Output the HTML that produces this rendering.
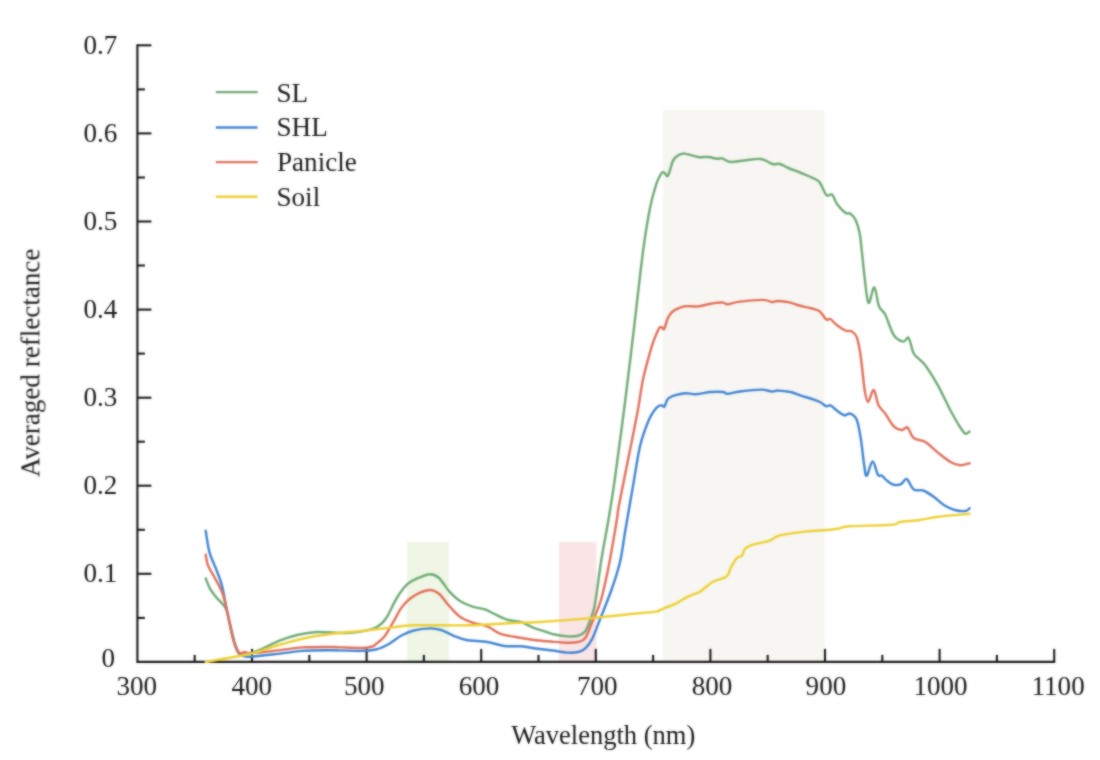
<!DOCTYPE html>
<html><head><meta charset="utf-8"><title>Averaged reflectance</title>
<style>
html,body{margin:0;padding:0;background:#fff;}
body{width:1100px;height:760px;overflow:hidden;position:relative;font-family:"Liberation Serif",serif;}
svg{position:absolute;left:0;top:0;display:block}
svg text{font-family:"Liberation Serif",serif;fill:#1a1a1a;font-size:27.1px}
</style></head><body>
<svg width="1100" height="760" viewBox="0 0 1100 760">
<rect width="1100" height="760" fill="#fff"/>
<defs><filter id="soft" filterUnits="userSpaceOnUse" x="0" y="0" width="1100" height="760" color-interpolation-filters="sRGB"><feGaussianBlur in="SourceGraphic" stdDeviation="0.8" result="b"/><feComposite in="SourceGraphic" in2="b" operator="arithmetic" k1="0" k2="0.4" k3="0.6" k4="0"/></filter></defs>
<g filter="url(#soft)">
<rect x="407" y="542" width="42" height="120" fill="#eff6e5"/>
<rect x="559" y="542" width="37.5" height="120" fill="#fae5e6"/>
<rect x="662.7" y="110" width="161.8" height="552" fill="#f7f6f2"/>
<g stroke="#1a1a1a" stroke-width="2.1" fill="none">
<path d="M137.4 44.3 V661.9 H1055.2" stroke-linejoin="miter"/>
<line x1="194.7" y1="661.9" x2="194.7" y2="654.9"/><line x1="252.0" y1="661.9" x2="252.0" y2="648.9"/><line x1="309.3" y1="661.9" x2="309.3" y2="654.9"/><line x1="366.6" y1="661.9" x2="366.6" y2="648.9"/><line x1="423.9" y1="661.9" x2="423.9" y2="654.9"/><line x1="481.2" y1="661.9" x2="481.2" y2="648.9"/><line x1="538.5" y1="661.9" x2="538.5" y2="654.9"/><line x1="595.8" y1="661.9" x2="595.8" y2="648.9"/><line x1="653.1" y1="661.9" x2="653.1" y2="654.9"/><line x1="710.4" y1="661.9" x2="710.4" y2="648.9"/><line x1="767.7" y1="661.9" x2="767.7" y2="654.9"/><line x1="825.0" y1="661.9" x2="825.0" y2="648.9"/><line x1="882.3" y1="661.9" x2="882.3" y2="654.9"/><line x1="939.6" y1="661.9" x2="939.6" y2="648.9"/><line x1="996.9" y1="661.9" x2="996.9" y2="654.9"/><line x1="1054.2" y1="661.9" x2="1054.2" y2="648.9"/><line x1="137.4" y1="617.9" x2="144.9" y2="617.9"/><line x1="137.4" y1="573.8" x2="151.4" y2="573.8"/><line x1="137.4" y1="529.8" x2="144.9" y2="529.8"/><line x1="137.4" y1="485.7" x2="151.4" y2="485.7"/><line x1="137.4" y1="441.7" x2="144.9" y2="441.7"/><line x1="137.4" y1="397.7" x2="151.4" y2="397.7"/><line x1="137.4" y1="353.6" x2="144.9" y2="353.6"/><line x1="137.4" y1="309.6" x2="151.4" y2="309.6"/><line x1="137.4" y1="265.5" x2="144.9" y2="265.5"/><line x1="137.4" y1="221.5" x2="151.4" y2="221.5"/><line x1="137.4" y1="177.5" x2="144.9" y2="177.5"/><line x1="137.4" y1="133.4" x2="151.4" y2="133.4"/><line x1="137.4" y1="89.4" x2="144.9" y2="89.4"/><line x1="137.4" y1="45.3" x2="151.4" y2="45.3"/>
</g>
<g fill="none" stroke-width="2.45" stroke-linejoin="round" stroke-linecap="round">
<path stroke="#70ab76" d="M205.7 578.5 C206.4 580.2 208.3 585.5 210.0 588.6 C211.7 591.7 214.1 594.6 216.0 597.0 C217.9 599.4 220.2 601.4 221.6 603.0 C223.0 604.6 223.6 604.8 224.6 606.5 C225.6 608.2 226.7 610.2 227.6 613.2 C228.5 616.2 228.9 619.5 230.2 624.8 C231.5 630.1 233.8 640.3 235.4 645.0 C237.0 649.7 238.1 651.6 239.5 653.2 C240.9 654.8 242.2 654.5 244.0 654.5 C245.8 654.5 247.6 654.2 250.6 653.2 C253.6 652.2 257.4 650.9 262.2 648.8 C267.0 646.7 273.8 643.0 279.6 640.7 C285.4 638.4 290.7 636.5 297.0 635.0 C303.3 633.5 309.0 632.3 317.2 632.0 C325.4 631.7 338.0 633.2 346.2 633.0 C354.4 632.8 361.0 631.6 366.3 630.5 C371.6 629.4 374.7 628.4 378.0 626.3 C381.3 624.2 383.2 622.7 386.3 618.0 C389.4 613.3 393.3 603.6 396.8 598.0 C400.3 592.4 403.5 587.7 407.4 584.2 C411.3 580.8 416.1 578.9 420.0 577.3 C423.9 575.6 427.3 574.2 430.5 574.3 C433.7 574.4 435.8 575.1 439.0 578.0 C442.2 580.9 446.0 587.8 449.5 591.6 C453.0 595.4 456.1 598.5 460.0 601.0 C463.9 603.5 468.4 605.3 472.6 606.7 C476.8 608.1 481.4 608.2 485.3 609.5 C489.2 610.8 492.0 613.0 495.8 614.7 C499.6 616.5 504.2 618.8 508.4 620.0 C512.6 621.2 516.8 620.7 521.0 622.0 C525.2 623.3 529.7 626.2 533.7 627.8 C537.7 629.4 541.5 630.4 545.0 631.5 C548.5 632.6 551.0 633.7 554.7 634.5 C558.4 635.3 563.5 636.2 567.4 636.4 C571.3 636.6 575.1 636.6 578.0 635.8 C580.9 635.0 582.9 634.4 585.0 631.6 C587.1 628.8 588.8 623.6 590.5 619.0 C592.2 614.4 593.2 613.5 595.0 604.0 C596.8 594.5 598.8 576.0 601.0 562.0 C603.2 548.0 606.1 533.7 608.4 520.0 C610.7 506.3 611.9 500.0 614.7 480.0 C617.5 460.0 622.1 425.3 625.3 400.0 C628.5 374.7 631.0 353.0 634.0 328.0 C637.0 303.0 640.5 270.0 643.2 250.0 C645.9 230.0 647.9 218.8 650.0 208.0 C652.1 197.2 654.2 190.7 656.0 185.0 C657.8 179.3 659.7 175.9 661.0 173.8 C662.3 171.7 662.9 172.1 664.0 172.5 C665.1 172.9 666.4 176.7 667.4 176.3 C668.4 175.9 669.1 172.4 670.0 170.0 C670.9 167.6 671.5 163.9 672.6 161.6 C673.7 159.3 674.9 157.6 676.8 156.3 C678.7 155.0 680.7 153.5 684.2 153.6 C687.7 153.7 694.0 156.4 698.0 157.0 C702.0 157.6 705.3 156.7 708.4 157.0 C711.5 157.3 714.5 158.6 716.8 158.8 C719.1 159.0 719.7 157.9 722.0 158.4 C724.3 158.9 726.8 161.7 730.5 162.0 C734.2 162.3 738.9 161.0 744.0 160.5 C749.1 160.0 756.2 158.4 761.0 159.0 C765.8 159.6 769.4 163.2 772.6 164.0 C775.8 164.8 777.4 163.3 780.0 164.0 C782.6 164.7 784.9 166.5 788.4 168.0 C791.9 169.5 796.3 171.0 801.0 173.0 C805.7 175.0 813.5 178.1 816.8 180.0 C820.1 181.9 819.4 182.1 821.0 184.7 C822.6 187.2 824.8 193.7 826.7 195.3 C828.6 197.0 830.5 193.2 832.2 194.6 C833.9 196.0 834.6 200.7 836.8 203.7 C839.0 206.7 843.0 211.0 845.3 212.7 C847.6 214.4 848.8 212.5 850.5 213.8 C852.2 215.1 854.3 217.3 855.8 220.5 C857.3 223.7 858.6 228.1 859.6 233.0 C860.6 237.9 860.9 243.2 861.7 250.0 C862.5 256.8 863.1 264.9 864.2 273.7 C865.3 282.5 866.7 300.4 868.4 302.7 C870.1 305.0 872.5 286.8 874.3 287.4 C876.1 288.0 877.2 301.8 879.0 306.3 C880.8 310.9 882.8 309.9 885.3 314.7 C887.8 319.5 890.7 330.5 893.7 335.0 C896.7 339.5 900.7 341.1 903.2 341.6 C905.7 342.1 906.9 336.1 908.6 338.0 C910.3 339.9 911.8 349.5 913.5 353.0 C915.2 356.5 917.0 356.9 919.0 359.0 C921.0 361.1 922.1 360.9 925.3 365.3 C928.4 369.7 933.7 377.8 937.9 385.3 C942.1 392.8 946.8 403.6 950.5 410.5 C954.2 417.4 957.5 423.1 960.0 427.0 C962.5 430.9 963.7 432.9 965.3 433.7 C966.9 434.5 968.8 432.0 969.5 431.6"/>
<path stroke="#4285d4" d="M205.7 530.7 C206.3 534.3 207.8 546.1 209.5 552.4 C211.2 558.7 213.8 563.0 215.8 568.3 C217.8 573.6 220.0 578.8 221.6 584.3 C223.2 589.8 224.0 596.0 225.2 601.6 C226.3 607.2 227.1 611.4 228.5 618.0 C229.9 624.6 232.0 635.2 233.6 641.0 C235.2 646.8 236.6 650.0 238.2 652.5 C239.8 655.0 240.9 655.3 243.0 656.0 C245.1 656.7 245.5 657.0 250.6 656.7 C255.7 656.4 265.1 655.3 273.8 654.3 C282.5 653.3 293.1 651.6 302.7 650.9 C312.3 650.2 322.0 650.3 331.7 650.3 C341.4 650.3 353.2 651.0 360.6 650.9 C368.0 650.8 371.2 650.6 375.8 649.5 C380.4 648.4 384.2 646.5 388.4 644.2 C392.6 641.9 396.8 638.1 401.0 635.8 C405.2 633.5 408.8 631.7 413.7 630.5 C418.6 629.3 425.9 628.5 430.5 628.4 C435.1 628.3 437.1 628.8 441.0 630.0 C444.9 631.2 449.5 634.1 453.7 635.8 C457.9 637.5 460.7 639.0 466.3 640.0 C471.9 641.0 481.1 641.0 487.4 642.0 C493.7 643.0 498.6 645.3 504.2 646.0 C509.8 646.7 515.4 645.8 521.0 646.3 C526.6 646.8 532.7 648.1 538.0 648.8 C543.3 649.5 547.7 649.9 552.6 650.5 C557.5 651.1 563.2 652.4 567.4 652.6 C571.6 652.9 575.0 652.7 578.0 652.0 C581.0 651.3 582.9 650.7 585.3 648.4 C587.7 646.1 590.0 643.3 592.6 638.0 C595.2 632.7 597.8 624.9 601.0 616.8 C604.2 608.7 608.4 598.6 611.6 589.5 C614.8 580.4 617.7 571.8 620.0 562.0 C622.3 552.2 623.2 542.8 625.3 530.5 C627.4 518.2 630.1 502.4 632.6 488.4 C635.1 474.4 637.4 457.5 640.0 446.3 C642.6 435.1 645.9 427.1 648.4 421.0 C650.9 414.9 652.9 412.5 654.7 410.0 C656.5 407.5 657.8 406.6 659.0 405.8 C660.2 405.1 661.1 405.3 662.0 405.5 C662.9 405.7 663.5 407.4 664.2 406.8 C664.9 406.2 665.6 403.4 666.3 402.0 C667.0 400.6 667.0 399.5 668.4 398.4 C669.8 397.3 671.9 396.2 674.7 395.3 C677.5 394.4 681.8 393.4 685.3 393.2 C688.8 393.0 691.6 394.4 695.8 394.2 C700.0 394.0 705.9 392.4 710.5 392.0 C715.1 391.6 720.4 391.7 723.2 392.0 C726.0 392.3 724.6 393.9 727.4 393.8 C730.2 393.7 734.4 392.2 740.0 391.5 C745.6 390.8 755.7 389.6 761.0 389.6 C766.3 389.6 768.8 391.3 771.6 391.5 C774.4 391.7 774.8 390.5 777.9 390.6 C781.0 390.7 786.8 391.2 790.5 392.0 C794.2 392.8 796.4 394.1 800.0 395.3 C803.6 396.5 808.7 397.9 812.0 399.0 C815.3 400.1 817.6 400.8 820.0 402.0 C822.4 403.2 824.5 405.8 826.3 406.3 C828.0 406.9 828.8 404.6 830.5 405.3 C832.2 406.0 834.5 408.9 836.8 410.5 C839.1 412.1 841.9 414.7 844.2 415.2 C846.5 415.7 848.4 412.9 850.5 413.7 C852.6 414.5 855.0 415.6 856.8 420.0 C858.5 424.4 859.8 432.4 861.0 440.0 C862.2 447.6 863.2 459.3 864.2 465.3 C865.2 471.3 865.3 476.4 866.7 475.8 C868.1 475.2 870.7 461.7 872.6 461.5 C874.5 461.3 876.3 472.3 877.9 474.7 C879.5 477.1 880.4 474.8 882.0 475.8 C883.6 476.9 885.4 479.5 887.4 481.0 C889.4 482.5 891.4 484.3 893.7 484.8 C896.0 485.3 898.8 485.2 901.0 484.2 C903.2 483.2 904.6 478.1 906.7 479.0 C908.8 479.9 911.0 487.6 913.7 489.5 C916.5 491.4 919.9 489.3 923.2 490.5 C926.5 491.7 930.2 494.3 933.7 496.8 C937.2 499.3 940.7 503.1 944.2 505.3 C947.7 507.5 951.2 509.1 954.7 510.0 C958.2 510.9 962.8 511.3 965.3 511.0 C967.8 510.7 968.8 508.8 969.5 508.4"/>
<path stroke="#e2705a" d="M205.7 554.7 C206.1 556.5 206.6 561.7 208.0 565.4 C209.4 569.1 211.9 572.4 214.3 577.0 C216.7 581.6 220.2 587.0 222.4 593.0 C224.6 599.0 225.6 605.5 227.4 613.2 C229.2 620.9 231.5 633.0 233.2 639.3 C234.9 645.6 236.4 648.6 237.6 650.9 C238.8 653.2 239.3 653.0 240.5 653.2 C241.7 653.4 243.3 652.0 245.0 652.0 C246.7 652.0 245.8 653.4 250.6 653.2 C255.4 653.0 265.1 651.9 273.8 650.9 C282.5 649.9 293.1 648.0 302.7 647.4 C312.3 646.8 322.0 646.9 331.7 647.0 C341.4 647.1 353.9 648.1 360.6 648.0 C367.4 647.9 369.7 647.1 372.2 646.5 C374.7 645.9 373.8 645.8 375.8 644.2 C377.8 642.6 381.4 640.3 384.2 636.8 C387.0 633.3 389.8 627.9 392.6 623.2 C395.4 618.5 398.2 612.4 401.0 608.4 C403.8 604.4 406.3 601.6 409.5 599.0 C412.7 596.4 416.5 594.1 420.0 592.6 C423.5 591.1 427.3 589.8 430.5 590.0 C433.7 590.2 435.8 591.0 439.0 593.7 C442.2 596.4 446.0 602.4 449.5 606.3 C453.0 610.1 456.1 614.1 460.0 616.8 C463.9 619.5 468.0 621.1 472.6 622.7 C477.2 624.3 482.8 624.5 487.4 626.3 C492.0 628.1 495.4 632.0 500.0 633.7 C504.6 635.5 509.1 635.8 514.7 636.8 C520.3 637.8 527.4 639.2 533.7 640.0 C540.0 640.8 547.0 641.2 552.6 641.7 C558.2 642.2 563.2 642.7 567.4 642.7 C571.6 642.8 575.0 642.8 578.0 642.0 C581.0 641.2 582.9 641.5 585.3 638.0 C587.7 634.5 590.0 627.3 592.6 621.0 C595.2 614.7 598.2 609.8 601.0 600.0 C603.8 590.2 606.9 575.3 609.5 562.0 C612.1 548.7 615.2 529.5 616.8 520.0 C618.4 510.5 616.9 516.2 619.0 505.0 C621.1 493.8 626.4 468.4 629.5 452.6 C632.6 436.8 635.6 422.4 637.9 410.0 C640.2 397.6 640.9 388.9 643.2 378.4 C645.5 367.9 649.5 354.0 651.6 346.8 C653.7 339.6 654.7 338.2 656.0 335.0 C657.3 331.8 658.6 328.8 659.6 327.5 C660.6 326.2 661.2 327.2 662.0 327.5 C662.8 327.8 663.5 329.9 664.2 329.0 C665.0 328.1 665.8 324.0 666.5 322.0 C667.2 320.0 667.4 318.8 668.4 317.0 C669.4 315.2 671.0 312.9 672.6 311.5 C674.2 310.1 675.9 309.4 678.0 308.5 C680.1 307.6 682.0 306.6 685.3 306.2 C688.6 305.8 693.8 306.8 698.0 306.4 C702.2 306.0 706.3 304.3 710.5 303.7 C714.7 303.1 720.4 302.5 723.2 302.6 C726.0 302.7 724.6 304.5 727.4 304.3 C730.2 304.1 734.0 302.3 740.0 301.6 C746.0 300.9 757.9 299.8 763.2 299.9 C768.5 300.0 769.2 301.8 771.6 302.0 C774.0 302.2 774.8 300.9 777.9 301.0 C781.0 301.1 786.8 301.8 790.5 302.6 C794.2 303.4 796.4 304.8 800.0 305.8 C803.6 306.8 808.7 307.5 812.0 308.5 C815.3 309.5 817.6 309.8 820.0 311.6 C822.4 313.5 824.5 318.4 826.3 319.6 C828.0 320.8 828.9 318.2 830.5 319.0 C832.1 319.8 833.3 322.3 835.8 324.2 C838.3 326.1 842.7 329.3 845.3 330.5 C847.9 331.7 849.7 330.2 851.6 331.3 C853.5 332.4 855.4 334.0 856.8 337.4 C858.2 340.8 859.2 347.0 860.0 351.6 C860.8 356.2 861.0 358.7 861.8 365.0 C862.6 371.3 863.6 383.3 864.6 389.5 C865.6 395.7 866.5 401.9 868.0 402.0 C869.5 402.1 872.0 389.4 873.7 390.0 C875.5 390.6 876.6 401.4 878.5 405.3 C880.4 409.2 882.8 410.2 885.3 413.7 C887.8 417.2 890.9 423.6 893.7 426.3 C896.5 429.0 899.7 429.8 902.0 430.0 C904.3 430.2 905.4 426.1 907.4 427.4 C909.4 428.7 910.7 435.6 913.7 438.0 C916.7 440.4 921.3 439.6 925.3 442.0 C929.3 444.4 933.7 449.3 937.9 452.6 C942.1 455.9 946.8 459.9 950.5 462.0 C954.2 464.1 956.8 465.1 960.0 465.3 C963.2 465.5 967.9 463.6 969.5 463.2"/>
<path stroke="#eed034" d="M205.7 661.9 C213.2 660.5 239.2 656.4 250.6 653.8 C261.9 651.2 265.1 649.0 273.8 646.5 C282.5 644.0 293.1 640.8 302.7 638.7 C312.3 636.6 321.1 635.2 331.7 633.8 C342.3 632.4 356.1 631.6 366.3 630.5 C376.5 629.4 384.7 628.3 392.6 627.4 C400.5 626.5 401.4 625.6 413.7 625.3 C426.0 624.9 450.5 625.6 466.3 625.3 C482.1 624.9 496.1 623.8 508.4 623.2 C520.7 622.7 526.0 622.9 540.0 622.0 C554.0 621.1 578.6 619.2 592.6 618.0 C606.6 616.8 613.5 615.8 624.0 614.7 C634.5 613.6 649.8 612.4 655.8 611.6 C661.8 610.8 658.2 610.7 660.0 610.0 C661.8 609.3 663.8 608.4 666.3 607.4 C668.8 606.4 671.2 606.0 674.7 604.2 C678.2 602.4 683.2 598.9 687.4 596.8 C691.6 594.7 695.8 594.1 700.0 591.6 C704.2 589.1 708.2 584.5 712.6 582.0 C717.0 579.5 723.3 579.1 726.3 576.8 C729.3 574.5 728.8 571.5 730.5 568.4 C732.2 565.3 734.9 560.1 736.8 558.0 C738.7 555.9 740.6 557.4 742.0 555.8 C743.4 554.2 743.2 550.3 745.3 548.4 C747.4 546.5 750.7 545.5 754.7 544.2 C758.7 542.9 765.3 542.1 769.5 540.6 C773.7 539.1 774.0 536.9 780.0 535.4 C786.0 533.9 797.6 532.5 805.3 531.6 C813.0 530.7 820.7 530.5 826.3 530.0 C831.9 529.5 835.1 529.0 839.0 528.4 C842.9 527.8 840.7 526.9 849.5 526.3 C858.3 525.7 883.2 525.5 891.6 524.8 C900.0 524.1 895.3 522.8 900.0 522.0 C904.7 521.2 913.7 520.9 920.0 520.0 C926.3 519.1 929.6 517.8 937.9 516.8 C946.1 515.8 964.2 514.2 969.5 513.7"/>
</g>
<g><text x="136.8" y="695.3" text-anchor="middle">300</text><text x="251.7" y="695.3" text-anchor="middle">400</text><text x="364.2" y="695.3" text-anchor="middle">500</text><text x="479.0" y="695.3" text-anchor="middle">600</text><text x="597.2" y="695.3" text-anchor="middle">700</text><text x="712.0" y="695.3" text-anchor="middle">800</text><text x="825.9" y="695.3" text-anchor="middle">900</text><text x="940.5" y="695.3" text-anchor="middle">1000</text><text x="1058.1" y="695.3" text-anchor="middle">1100</text></g>
<g><text x="115.0" y="667.3" text-anchor="end">0</text><text x="117.3" y="582.0" text-anchor="end">0.1</text><text x="117.3" y="493.9" text-anchor="end">0.2</text><text x="117.3" y="405.9" text-anchor="end">0.3</text><text x="117.3" y="317.8" text-anchor="end">0.4</text><text x="117.3" y="229.7" text-anchor="end">0.5</text><text x="117.3" y="141.6" text-anchor="end">0.6</text><text x="117.3" y="53.5" text-anchor="end">0.7</text></g>
<g stroke-width="2.4" fill="none">
<line x1="215.8" y1="92.1" x2="257.6" y2="92.1" stroke="#70ab76"/>
<line x1="215.8" y1="127.5" x2="257.6" y2="127.5" stroke="#4285d4"/>
<line x1="215.8" y1="162.1" x2="257.6" y2="162.1" stroke="#e2705a"/>
<line x1="215.8" y1="196.7" x2="257.6" y2="196.7" stroke="#eed034"/>
</g>
<g>
<text x="276.5" y="102.0" text-anchor="start">SL</text>
<text x="276.5" y="136.0" text-anchor="start">SHL</text>
<text x="277.0" y="171.0" text-anchor="start">Panicle</text>
<text x="276.5" y="206.0" text-anchor="start">Soil</text>
</g>
<text x="603.2" y="743.5" text-anchor="middle" style="font-size:26.5px">Wavelength (nm)</text>
<text transform="translate(39.4 362.9) rotate(-90)" text-anchor="middle" style="font-size:27.05px">Averaged reflectance</text>
</g>
</svg>
</body></html>
